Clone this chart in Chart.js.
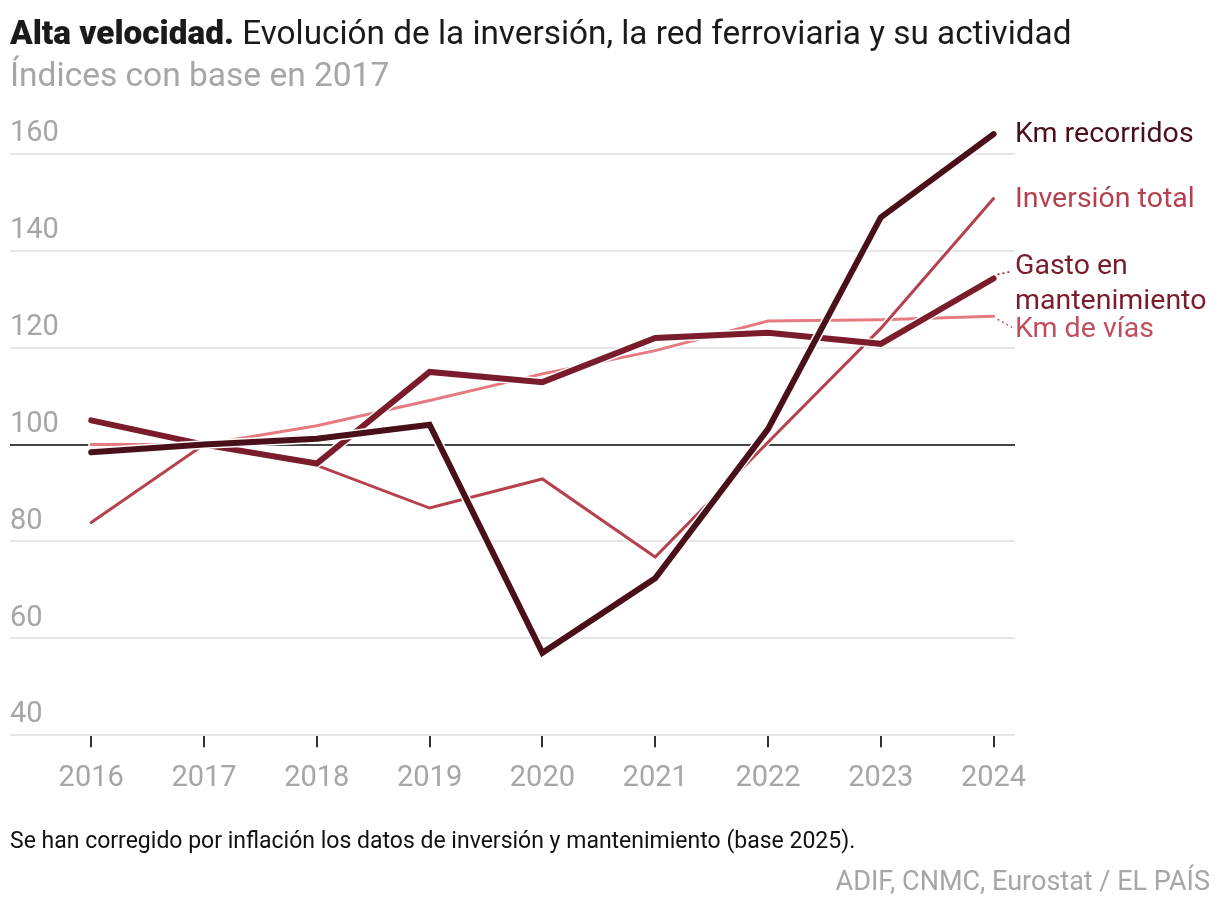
<!DOCTYPE html>
<html lang="es">
<head>
<meta charset="utf-8">
<title>Alta velocidad</title>
<script src="https://cdn.jsdelivr.net/npm/chart.js@4"></script>
<style>
  html, body { margin: 0; padding: 0; background: #fff; }
  body { width: 1220px; height: 912px; position: relative; overflow: hidden; font-family: Roboto, "Liberation Sans", sans-serif; }
  #wrap { position: absolute; left: 0; top: 0; width: 1220px; height: 912px; }
  .txt { position: absolute; white-space: nowrap; }
  #titulo { left: 10px; top: 13px; font-size: 33.3px; line-height: 40px; color: #1a1a1a; }
  #titulo b { font-weight: 900; }
  #subtitulo { left: 10px; top: 55px; font-size: 33.5px; line-height: 40px; color: #a6a6a6; }
  #nota { left: 10px; top: 826px; font-size: 23px; line-height: 30px; color: #111; }
  #fuente { right: 10px; top: 864px; font-size: 27px; line-height: 34px; color: #a6a6a6; }
</style>
</head>
<body>
<div id="wrap"><canvas id="grafico" width="1220" height="912"></canvas></div>
<div class="txt" id="titulo"><b>Alta velocidad.</b> Evolución de la inversión, la red ferroviaria y su actividad</div>
<div class="txt" id="subtitulo">Índices con base en 2017</div>
<div class="txt" id="nota">Se han corregido por inflación los datos de inversión y mantenimiento (base 2025).</div>
<div class="txt" id="fuente">ADIF, CNMC, Eurostat / EL PAÍS</div>
<script>
// datos (índices, 2017 = 100)
const anios = [2016, 2017, 2018, 2019, 2020, 2021, 2022, 2023, 2024];
const kmRecorridos = [98.4, 100, 101.2, 104.1, 57.0, 72.4, 103.2, 146.9, 164.1];
const gastoMant = [105.0, 100, 96.1, 115.0, 112.9, 122.0, 123.1, 120.8, 134.3];
const inversionTotal = [83.9, 100, 95.7, 86.9, 92.9, 76.8, 100.5, 124.0, 150.8];
const kmVias = [100, 100, 103.9, 109.1, 114.6, 119.4, 125.5, 125.8, 126.5];
const ticksY = [40, 60, 80, 100, 120, 140, 160];

// etiquetas al final de cada línea (valor del eje donde va el texto)
const etiquetas = [
    { lineas: ["Km recorridos"], y: 164, color: "#4a1019" },
    { lineas: ["Inversión total"], y: 150.5, color: "#b5414f" },
    { lineas: ["Gasto en", "mantenimiento"], y: 136.6, color: "#7b1c2c", guia: true, serie: 1 },
    { lineas: ["Km de vías"], y: 123.6, color: "#c0505e", guia: true, serie: 3 }
];

const FUENTE = "Roboto, 'Liberation Sans', sans-serif";
const puntos = arr => arr.map((v, i) => ({ x: anios[i], y: v }));

// halo blanco bajo cada línea
const halo = {
    id: "halo",
    beforeDatasetDraw(chart, args) {
        const pts = args.meta.data;
        const ds = chart.data.datasets[args.index];
        const ctx = chart.ctx;
        ctx.save();
        ctx.strokeStyle = "#fff";
        ctx.lineWidth = ds.borderWidth + 3;
        ctx.lineJoin = "round";
        ctx.lineCap = "round";
        ctx.beginPath();
        pts.forEach((p, i) => i ? ctx.lineTo(p.x, p.y) : ctx.moveTo(p.x, p.y));
        ctx.stroke();
        ctx.restore();
    }
};

// etiquetas directas a la derecha
const rotulos = {
    id: "rotulos",
    afterDatasetsDraw(chart) {
        const ctx = chart.ctx;
        const ys = chart.scales.y;
        const x0 = chart.chartArea.right;
        ctx.save();
        ctx.font = "28.5px " + FUENTE;
        ctx.textBaseline = "middle";
        ctx.textAlign = "left";
        etiquetas.forEach(e => {
            const yc = ys.getPixelForValue(e.y);
            ctx.fillStyle = e.color;
            e.lineas.forEach((t, i) => ctx.fillText(t, x0, yc + i * 35));
            if (e.guia) {
                const meta = chart.getDatasetMeta(e.serie);
                const p = meta.data[meta.data.length - 1];
                const up = yc < p.y;
                ctx.strokeStyle = e.color;
                ctx.lineWidth = 1.5;
                ctx.setLineDash([2, 3]);
                ctx.beginPath();
                ctx.moveTo(p.x + 4, p.y + (up ? -4 : 3));
                ctx.lineTo(x0 - 3, yc + (up ? 4 : -3));
                ctx.stroke();
                ctx.setLineDash([]);
            }
        });
        ctx.restore();
    }
};

const ctx = document.getElementById("grafico").getContext("2d");
const grafico = new Chart(ctx, {
    type: "line",
    data: {
        datasets: [
            { label: "Km recorridos", data: puntos(kmRecorridos), borderColor: "#4a1019", borderWidth: 6 },
            { label: "Gasto en mantenimiento", data: puntos(gastoMant), borderColor: "#7b1c2c", borderWidth: 6 },
            { label: "Inversión total", data: puntos(inversionTotal), borderColor: "#b5414f", borderWidth: 3 },
            { label: "Km de vías", data: puntos(kmVias), borderColor: "#e57b80", borderWidth: 3 }
        ].map(d => Object.assign(d, { pointRadius: 0, tension: 0, fill: false, clip: false, borderCapStyle: "round", borderJoinStyle: "miter" }))
    },
    options: {
        responsive: false,
        animation: false,
        devicePixelRatio: 1,
        layout: { padding: { left: 10, right: 205, top: 154, bottom: 102 } },
        plugins: { legend: { display: false }, tooltip: { enabled: false } },
        scales: {
            x: {
                type: "linear",
                min: 2015.28,
                max: 2024.19,
                afterBuildTicks: axis => { axis.ticks = anios.map(v => ({ value: v })); },
                border: { display: false },
                grid: { drawOnChartArea: false, drawTicks: true, tickLength: 12, color: "#333", lineWidth: 2 },
                ticks: {
                    callback: v => String(v),
                    color: "#a6a6a6",
                    font: { size: 29, family: FUENTE },
                    padding: 14,
                    maxRotation: 0,
                    autoSkip: false
                }
            },
            y: {
                min: 40,
                max: 160,
                afterBuildTicks: axis => { axis.ticks = ticksY.map(v => ({ value: v })); },
                border: { display: false },
                grid: {
                    drawTicks: false,
                    color: c => c.tick.value === 100 ? "#444" : "#e6e6e6",
                    lineWidth: 2
                },
                ticks: {
                    mirror: true,
                    padding: 0,
                    labelOffset: -20,
                    color: "#a6a6a6",
                    font: { size: 29, family: FUENTE }
                }
            }
        }
    },
    plugins: [halo, rotulos]
});
</script>
</body>
</html>
